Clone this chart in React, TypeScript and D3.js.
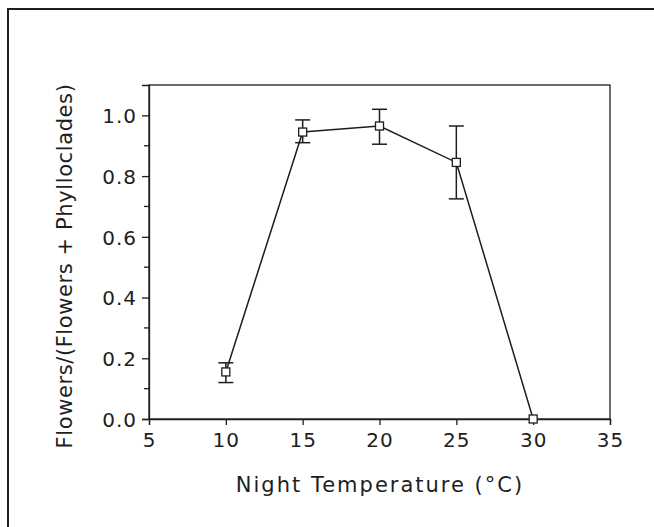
import React, { useEffect, useRef } from "react";
import * as d3 from "d3";

// night temperature (C) and the flowering ratio
const temps = [10, 15, 20, 25, 30];
const ratio = [0.155, 0.945, 0.965, 0.845, 0.0];
const errLow = [0.12, 0.91, 0.905, 0.725, 0.0];
const errHigh = [0.185, 0.985, 1.02, 0.965, 0.0];

const xTicks = [5, 10, 15, 20, 25, 30, 35];
const yTicks = [0, 0.2, 0.4, 0.6, 0.8, 1.0];
const yMinorTicks = [0.1, 0.3, 0.5, 0.7, 0.9];

const FONT = "'DejaVu Sans', 'Open Sans', sans-serif";
const INK = "#1e1e1e";

export default function App() {
  const ref = useRef<SVGSVGElement>(null);

  useEffect(() => {
    const svg = d3.select(ref.current);
    svg.selectAll("*").remove();

    const left = 149, right = 610, top = 85, bottom = 419;

    const xScale = d3.scaleLinear().domain([5, 35]).range([left, right]);
    const yScale = d3.scaleLinear().domain([0, 1.1]).range([bottom, top]);

    // outer frame (cropped at right and bottom)
    svg.append("rect")
      .attr("x", 8).attr("y", 9)
      .attr("width", 700).attr("height", 600)
      .attr("fill", "none")
      .attr("stroke", INK)
      .attr("stroke-width", 2);

    // plot box
    svg.append("rect")
      .attr("x", left).attr("y", top)
      .attr("width", right - left).attr("height", bottom - top)
      .attr("fill", "none")
      .attr("stroke", INK)
      .attr("stroke-width", 1.3);

    // x axis
    const gx = svg.append("g").attr("transform", `translate(0,${bottom})`);
    gx.call(
      d3.axisBottom(xScale)
        .tickValues(xTicks)
        .tickSize(6)
        .tickPadding(8)
        .tickFormat(d3.format("d"))
    );
    gx.select(".domain").attr("stroke", INK).attr("stroke-width", 1.3);
    gx.selectAll(".tick line").attr("stroke", INK).attr("stroke-width", 1.3);
    gx.selectAll(".tick text")
      .attr("fill", INK)
      .style("font-family", FONT)
      .style("font-size", "20px")
      .style("letter-spacing", "1px");

    // y axis, major + minor ticks
    const gy = svg.append("g").attr("transform", `translate(${left},0)`);
    gy.call(
      d3.axisLeft(yScale)
        .tickValues(yTicks)
        .tickSize(7)
        .tickPadding(5)
        .tickFormat(d3.format(".1f"))
    );
    gy.select(".domain").attr("stroke", INK).attr("stroke-width", 1.3);
    gy.selectAll(".tick line").attr("stroke", INK).attr("stroke-width", 1.3);
    gy.selectAll(".tick text")
      .attr("fill", INK)
      .attr("dy", "0.36em")
      .style("font-family", FONT)
      .style("font-size", "20px")
      .style("letter-spacing", "1px");

    gy.selectAll(".minor")
      .data(yMinorTicks)
      .join("line")
      .attr("class", "minor")
      .attr("x1", -5).attr("x2", 0)
      .attr("y1", d => yScale(d)).attr("y2", d => yScale(d))
      .attr("stroke", INK)
      .attr("stroke-width", 1.3);

    // axis titles
    svg.append("text")
      .attr("x", 380)
      .attr("y", 492)
      .attr("text-anchor", "middle")
      .attr("fill", INK)
      .style("font-family", FONT)
      .style("font-size", "21px")
      .style("letter-spacing", "2px")
      .text("Night Temperature (°C)");

    svg.append("text")
      .attr("transform", "translate(72,266) rotate(-90)")
      .attr("text-anchor", "middle")
      .attr("fill", INK)
      .style("font-family", FONT)
      .style("font-size", "21px")
      .style("letter-spacing", "0.6px")
      .text("Flowers/(Flowers + Phylloclades)");

    const pts = temps.map((t, i) => ({ t, v: ratio[i], lo: errLow[i], hi: errHigh[i] }));

    // connecting line
    const line = d3.line<{ t: number; v: number }>()
      .x(d => xScale(d.t))
      .y(d => yScale(d.v));
    svg.append("path")
      .datum(pts)
      .attr("d", line)
      .attr("fill", "none")
      .attr("stroke", INK)
      .attr("stroke-width", 1.5);

    // error bars
    const err = svg.append("g").attr("stroke", INK).attr("stroke-width", 1.5);
    const withErr = pts.filter(d => d.hi > d.lo);
    err.selectAll(".stem")
      .data(withErr)
      .join("line")
      .attr("class", "stem")
      .attr("x1", d => xScale(d.t)).attr("x2", d => xScale(d.t))
      .attr("y1", d => yScale(d.lo)).attr("y2", d => yScale(d.hi));
    err.selectAll(".capHi")
      .data(withErr)
      .join("line")
      .attr("class", "capHi")
      .attr("x1", d => xScale(d.t) - 7.5).attr("x2", d => xScale(d.t) + 7.5)
      .attr("y1", d => yScale(d.hi)).attr("y2", d => yScale(d.hi));
    err.selectAll(".capLo")
      .data(withErr)
      .join("line")
      .attr("class", "capLo")
      .attr("x1", d => xScale(d.t) - 7.5).attr("x2", d => xScale(d.t) + 7.5)
      .attr("y1", d => yScale(d.lo)).attr("y2", d => yScale(d.lo));

    // open square markers
    svg.selectAll(".mark")
      .data(pts)
      .join("rect")
      .attr("class", "mark")
      .attr("x", d => xScale(d.t) - 4)
      .attr("y", d => yScale(d.v) - 4)
      .attr("width", 8)
      .attr("height", 8)
      .attr("fill", "white")
      .attr("stroke", INK)
      .attr("stroke-width", 1.3);
  }, []);

  return (
    <svg
      ref={ref}
      width={654}
      height={527}
      style={{ position: "absolute", left: 0, top: 0, background: "white" }}
    />
  );
}
